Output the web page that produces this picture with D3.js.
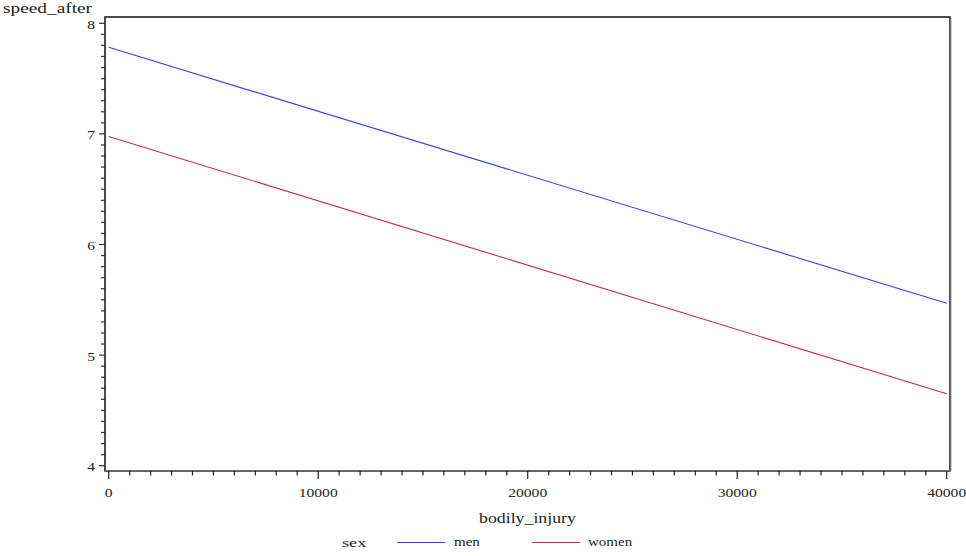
<!DOCTYPE html>
<html><head><meta charset="utf-8">
<script src="https://cdn.jsdelivr.net/npm/d3@7"></script>
<style>
body{margin:0;background:#fff}
text{font-family:"Liberation Serif","Times New Roman",serif;fill:#222}
</style></head>
<body>
<svg id="c" width="966" height="556"></svg>
<script>
const xValues = [0, 40000];
const menValues = [7.783, 5.468];
const womenValues = [6.976, 4.650];
const seriesNames = ["men", "women"];
const seriesColors = ["#3a3af2", "#c92a42"];
const yMajorTicks = [4, 5, 6, 7, 8];
const xMajorTicks = [0, 10000, 20000, 30000, 40000];

const svg = d3.select("#c");
const L = 105, R = 950, T = 17, B = 471;
const x = d3.scaleLinear().domain([-177, 40157]).range([L, R]);
const y = d3.scaleLinear().domain([3.952, 8.057]).range([B, T]);

function stretch(sel, f){
  sel.each(function(){ const w = this.getComputedTextLength(); d3.select(this).attr("textLength", w*f).attr("lengthAdjust","spacingAndGlyphs"); });
}

// frame
svg.append("rect").attr("x",L).attr("y",T).attr("width",R-L).attr("height",B-T)
  .attr("fill","none").attr("stroke","#000").attr("stroke-width",1.4);
svg.append("line").attr("x1",R+1.2).attr("x2",R+1.2).attr("y1",T+1).attr("y2",B).attr("stroke","#bbb").attr("stroke-width",1);
svg.append("line").attr("x1",L).attr("x2",R).attr("y1",B).attr("y2",B).attr("stroke","#666").attr("stroke-width",2);

// y axis ticks
const yMinor = d3.range(40, 81).map(v=>v/10).filter(v=>!yMajorTicks.includes(v));
svg.append("g").selectAll("line").data(yMinor).join("line")
  .attr("x1",L-4).attr("x2",L).attr("y1",d=>y(d)).attr("y2",d=>y(d)).attr("stroke","#333").attr("stroke-width",1.2);
svg.append("g").selectAll("line").data(yMajorTicks).join("line")
  .attr("x1",L-6).attr("x2",L).attr("y1",d=>y(d)).attr("y2",d=>y(d)).attr("stroke","#333").attr("stroke-width",1.2);
const yl = svg.append("g").selectAll("text").data(yMajorTicks).join("text")
  .attr("x",95).attr("y",d=>y(d)+5.5).attr("text-anchor","end").attr("font-size",13).text(d=>d);
stretch(yl,1.2);

// x axis ticks
const xMinor = d3.range(0, 40001, 1000).filter(v=>!xMajorTicks.includes(v));
svg.append("g").selectAll("line").data(xMinor).join("line")
  .attr("x1",d=>x(d)).attr("x2",d=>x(d)).attr("y1",B).attr("y2",B+4.5).attr("stroke","#222").attr("stroke-width",1.2);
svg.append("g").selectAll("line").data(xMajorTicks).join("line")
  .attr("x1",d=>x(d)).attr("x2",d=>x(d)).attr("y1",B).attr("y2",B+8).attr("stroke","#222").attr("stroke-width",1.2);
const xl = svg.append("g").selectAll("text").data(xMajorTicks).join("text")
  .attr("x",d=>x(d)).attr("y",497).attr("text-anchor","middle").attr("font-size",13).text(d=>d);
stretch(xl,1.2);

// lines
const line = d3.line().x((d,i)=>x(xValues[i])).y(d=>y(d));
[menValues, womenValues].forEach((vals,i)=>{
  svg.append("path").datum(vals).attr("d",line).attr("fill","none")
    .attr("stroke",seriesColors[i]).attr("stroke-width",1.1);
});

// axis labels
const yt = svg.append("text").attr("x",3).attr("y",13).attr("font-size",14).text("speed_after");
stretch(yt,1.38);
const xt = svg.append("text").attr("x",(L+R)/2).attr("y",523).attr("text-anchor","middle").attr("font-size",14).text("bodily_injury");
stretch(xt,1.27);

// legend
const st = svg.append("text").attr("x",342).attr("y",547).attr("font-size",13).text("sex");
stretch(st,1.4);
const legX = [397, 532];
const legTX = [454, 588];
seriesNames.forEach((n,i)=>{
  svg.append("line").attr("x1",legX[i]).attr("x2",legX[i]+48).attr("y1",542.5).attr("y2",542.5)
    .attr("stroke",seriesColors[i]).attr("stroke-width",1.1);
  const t = svg.append("text").attr("x",legTX[i]).attr("y",546).attr("font-size",12).text(n);
  stretch(t,1.25);
});
</script>
</body></html>
